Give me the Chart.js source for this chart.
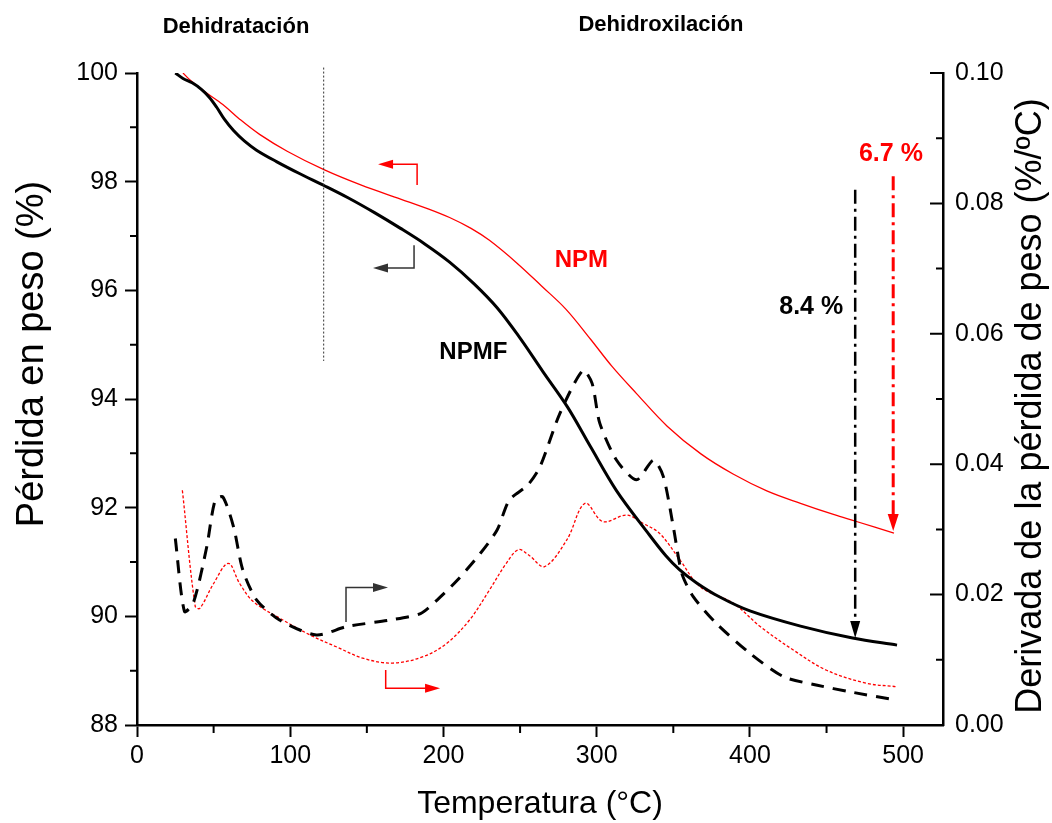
<!DOCTYPE html>
<html>
<head>
<meta charset="utf-8">
<script src="https://cdn.jsdelivr.net/npm/chart.js@4/dist/chart.umd.min.js"></script>
<style>
  html, body { margin: 0; padding: 0; background: #fff; }
  canvas { display: block; }
</style>
</head>
<body>
<canvas id="grafico" width="1052" height="823"></canvas>
<script>
// curvas TGA (eje izquierdo, % en peso) - [temperatura, valor]
const tgaNPMF = [[25,100],[30,99.9],[36,99.82],[42,99.7],[47,99.56],[52,99.37],[57,99.15],[63,98.94],[70,98.75],
  [78,98.58],[91,98.37],[106,98.15],[122,97.93],[138,97.7],[155,97.43],[172,97.14],[188,96.85],[204,96.52],
  [220,96.12],[235,95.68],[250,95.12],[265,94.5],[281,93.85],[296,93.12],[313,92.31],[333,91.55],[345,91.12],
  [354,90.86],[365,90.62],[380,90.36],[400,90.1],[433,89.82],[467,89.6],[496,89.47]];
const tgaNPM = [[30,100],[35,99.86],[45,99.64],[56,99.42],[67,99.15],[80,98.87],[98,98.56],[122,98.22],[146,97.94],
  [172,97.68],[190,97.5],[204,97.34],[218,97.14],[230,96.92],[248,96.5],[264,96.08],[280,95.65],[296,95.1],
  [310,94.6],[326,94.1],[346,93.5],[368,92.99],[389,92.62],[411,92.31],[433,92.08],[455,91.87],[469,91.75],[494,91.53]];

// curvas DTG (eje derecho, %/ºC)
const dtgNPMF = [[25,0.0286],[31,0.0174],[37,0.0189],[45.5,0.0273],[51,0.0345],[56,0.035],[63,0.0304],[69,0.0238],
  [78,0.0192],[93,0.0161],[117,0.0138],[137,0.0151],[165,0.0161],[185,0.0171],[196,0.0192],[209,0.0222],
  [224,0.0263],[235,0.0299],[243,0.0345],[255,0.0368],[263,0.0396],[276,0.0478],[291,0.0544],[297,0.0524],
  [302,0.0463],[313,0.0406],[326,0.0376],[337,0.0406],[343.5,0.0381],[350,0.0304],[355.5,0.0233],[363,0.0197],
  [378,0.0156],[400,0.011],[422,0.0074],[444,0.0061],[465,0.0051],[496,0.0038]];
const dtgNPM = [[29.6,0.036],[38,0.0182],[41,0.0179],[50,0.0217],[59.6,0.0248],[67,0.0217],[76,0.0189],[93,0.0164],
  [113,0.0138],[130,0.012],[148,0.0102],[167,0.0095],[187,0.0105],[202,0.0125],[217,0.0161],[230,0.0207],
  [241,0.0248],[249,0.0269],[256,0.026],[266,0.0243],[280.5,0.0284],[292.4,0.034],[304,0.0312],[319.6,0.0322],
  [330.4,0.0309],[341,0.0294],[354.4,0.0253],[367.5,0.0212],[389,0.0187],[406.7,0.0151],[428.3,0.0115],
  [450,0.0084],[476,0.0064],[495,0.0059]];

// ticks menores
const xMinor = [50, 150, 250, 350, 450];
const yMinor = [89, 91, 93, 95, 97, 99];
const y1Major = [0, 0.02, 0.04, 0.06, 0.08, 0.10];
const y1Minor = [0.01, 0.03, 0.05, 0.07, 0.09];

// titulos de ejes verticales
const tituloIzq = "Pérdida en peso (%)";
const tituloDer = "Derivada de la pérdida de peso (%/ºC)";

// anotaciones (en unidades de datos)
const lineaDivisoria = { x: 121.5, y: [100.1, 94.7] };
const flechaPerdidaNPMF = { x: 468.7, y: [97.85, 89.6], texto: "8.4 %" };
const flechaPerdidaNPM = { x: 493.5, y: [98.1, 91.57], texto: "6.7 %" };
// escuadras que indican el eje: inicio -> esquina -> punta
const escuadraNPMizq = { eje: "y", esquina: [182.8, 98.32], inicio: [182.8, 97.94], punta: [157.3, 98.32] };
const escuadraNPMFizq = { eje: "y", esquina: [180.8, 96.41], inicio: [180.8, 96.83], punta: [154, 96.41] };
const escuadraNPMFder = { eje: "y1", esquina: [136.4, 0.0211], inicio: [136.4, 0.0158], punta: [163.8, 0.0211] };
const escuadraNPMder = { eje: "y1", esquina: [162.3, 0.00563], inicio: [162.3, 0.00844], punta: [197.8, 0.00563] };
const etiquetas = [
  { texto: "NPM", x: 290, y: 96.55, color: "#ff0000" },
  { texto: "NPMF", x: 219.5, y: 94.85, color: "#000" }
];

const FUENTE = "'Liberation Sans', Arial, sans-serif";

function flecha(ctx, x0, y0, x1, y1, largo, ancho) {
  const ang = Math.atan2(y1 - y0, x1 - x0);
  ctx.save();
  ctx.setLineDash([]);
  ctx.beginPath();
  ctx.moveTo(x1, y1);
  ctx.lineTo(x1 - largo * Math.cos(ang) + ancho / 2 * Math.sin(ang), y1 - largo * Math.sin(ang) - ancho / 2 * Math.cos(ang));
  ctx.lineTo(x1 - largo * Math.cos(ang) - ancho / 2 * Math.sin(ang), y1 - largo * Math.sin(ang) + ancho / 2 * Math.cos(ang));
  ctx.closePath();
  ctx.fill();
  ctx.restore();
}

const anotaciones = {
  id: "anotaciones",
  afterDatasetsDraw(chart) {
    const ctx = chart.ctx;
    const x = chart.scales.x, y = chart.scales.y, y1 = chart.scales.y1;
    const area = chart.chartArea;
    ctx.save();

    // ticks menores y ticks del eje derecho (hacia dentro)
    ctx.strokeStyle = "#000";
    ctx.lineWidth = 2;
    ctx.beginPath();
    xMinor.forEach(v => { const px = x.getPixelForValue(v); ctx.moveTo(px, area.bottom); ctx.lineTo(px, area.bottom + 8); });
    yMinor.forEach(v => { const py = y.getPixelForValue(v); ctx.moveTo(area.left, py); ctx.lineTo(area.left - 7, py); });
    y1Major.forEach(v => { const py = y1.getPixelForValue(v); ctx.moveTo(area.right, py); ctx.lineTo(area.right - 13, py); });
    y1Minor.forEach(v => { const py = y1.getPixelForValue(v); ctx.moveTo(area.right, py); ctx.lineTo(area.right - 7, py); });
    ctx.stroke();

    // linea punteada vertical
    ctx.strokeStyle = "#333";
    ctx.lineWidth = 1;
    ctx.setLineDash([2, 2]);
    ctx.beginPath();
    const lx = x.getPixelForValue(lineaDivisoria.x) + 0.5;
    ctx.moveTo(lx, y.getPixelForValue(lineaDivisoria.y[0]));
    ctx.lineTo(lx, y.getPixelForValue(lineaDivisoria.y[1]));
    ctx.stroke();

    // flechas de perdida de peso (linea punto-raya)
    [[flechaPerdidaNPMF, "#000", 2.5, 10], [flechaPerdidaNPM, "#ff0000", 3, 11]].forEach(([f, color, ancho, cabeza]) => {
      const px = x.getPixelForValue(f.x);
      const pa = y.getPixelForValue(f.y[0]);
      const pb = y.getPixelForValue(f.y[1]);
      ctx.strokeStyle = color;
      ctx.fillStyle = color;
      ctx.lineWidth = ancho;
      ctx.setLineDash([14, 5, 3, 5]);
      ctx.beginPath();
      ctx.moveTo(px, pa);
      ctx.lineTo(px, pb - 14);
      ctx.stroke();
      flecha(ctx, px, pa, px, pb, 17, cabeza);
    });

    // escuadras con flecha
    [[escuadraNPMizq, "#ff0000"], [escuadraNPMFizq, "#333"], [escuadraNPMFder, "#333"], [escuadraNPMder, "#ff0000"]].forEach(([e, color]) => {
      const sc = e.eje === "y" ? y : y1;
      const p0 = [x.getPixelForValue(e.inicio[0]), sc.getPixelForValue(e.inicio[1])];
      const pc = [x.getPixelForValue(e.esquina[0]), sc.getPixelForValue(e.esquina[1])];
      const p1 = [x.getPixelForValue(e.punta[0]), sc.getPixelForValue(e.punta[1])];
      ctx.strokeStyle = color;
      ctx.fillStyle = color;
      ctx.lineWidth = 1.5;
      ctx.setLineDash([]);
      ctx.beginPath();
      ctx.moveTo(p0[0], p0[1]);
      ctx.lineTo(pc[0], pc[1]);
      const dir = Math.sign(p1[0] - pc[0]);
      ctx.lineTo(p1[0] - dir * 10, p1[1]);
      ctx.stroke();
      flecha(ctx, pc[0], pc[1], p1[0], p1[1], 15, 9);
    });

    // textos
    ctx.textAlign = "center";
    ctx.textBaseline = "middle";
    ctx.font = "bold 24px " + FUENTE;
    etiquetas.forEach(t => {
      ctx.fillStyle = t.color;
      ctx.fillText(t.texto, x.getPixelForValue(t.x), y.getPixelForValue(t.y));
    });
    ctx.font = "bold 25px " + FUENTE;
    ctx.fillStyle = "#000";
    ctx.fillText(flechaPerdidaNPMF.texto, x.getPixelForValue(440), y.getPixelForValue(95.7));
    ctx.fillStyle = "#ff0000";
    ctx.fillText(flechaPerdidaNPM.texto, x.getPixelForValue(492), y.getPixelForValue(98.5));

    ctx.font = "bold 22px " + FUENTE;
    ctx.fillStyle = "#000";
    ctx.fillText("Dehidratación", 236, 27);
    ctx.fillText("Dehidroxilación", 661, 25);

    // titulos verticales (ambos leidos de abajo hacia arriba)
    ctx.font = "38px " + FUENTE;
    ctx.save();
    ctx.translate(33, 354);
    ctx.rotate(-Math.PI / 2);
    ctx.fillText(tituloIzq, 0, 0);
    ctx.restore();
    ctx.font = "36px " + FUENTE;
    ctx.save();
    ctx.translate(1031, 406);
    ctx.rotate(-Math.PI / 2);
    ctx.fillText(tituloDer, 0, 0);
    ctx.restore();
    ctx.restore();
  }
};

const aPuntos = arr => arr.map(p => ({ x: p[0], y: p[1] }));

new Chart(document.getElementById("grafico"), {
  type: "line",
  data: {
    datasets: [
      { label: "NPMF", data: aPuntos(tgaNPMF), yAxisID: "y", borderColor: "#000", borderWidth: 3,
        pointRadius: 0, fill: false, tension: 0.35 },
      { label: "NPM", data: aPuntos(tgaNPM), yAxisID: "y", borderColor: "#ff0000", borderWidth: 1.3,
        pointRadius: 0, fill: false, tension: 0.35 },
      { label: "DTG NPMF", data: aPuntos(dtgNPMF), yAxisID: "y1", borderColor: "#000", borderWidth: 3,
        borderDash: [13, 9], pointRadius: 0, fill: false, tension: 0.25 },
      { label: "DTG NPM", data: aPuntos(dtgNPM), yAxisID: "y1", borderColor: "#ff0000", borderWidth: 1.3,
        borderDash: [3, 2], pointRadius: 0, fill: false, tension: 0.35 }
    ]
  },
  options: {
    responsive: false,
    animation: false,
    devicePixelRatio: 1,
    layout: { padding: { top: 73, left: 0, right: 0, bottom: 0 } },
    plugins: { legend: { display: false }, tooltip: { enabled: false } },
    scales: {
      x: {
        type: "linear", min: 0, max: 526,
        afterFit: s => { s.height = 98; },
        border: { display: true, color: "#000", width: 2.5 },
        grid: { drawOnChartArea: false, drawTicks: true, tickLength: 12, tickColor: "#000", tickWidth: 2 },
        ticks: { stepSize: 100, includeBounds: false, autoSkip: false, maxRotation: 0, padding: 4,
          color: "#000", font: { family: FUENTE, size: 25 } },
        title: { display: true, text: "Temperatura (°C)", color: "#000", padding: { top: 0, bottom: 0 },
          font: { family: FUENTE, size: 32 } }
      },
      y: {
        type: "linear", position: "left", min: 88, max: 100,
        afterFit: s => { s.width = 137; },
        border: { display: true, color: "#000", width: 2.5 },
        grid: { drawOnChartArea: false, drawTicks: true, tickLength: 12, tickColor: "#000", tickWidth: 2 },
        ticks: { stepSize: 2, includeBounds: false, padding: 7, color: "#000", font: { family: FUENTE, size: 25 } }
      },
      y1: {
        type: "linear", position: "right", min: 0, max: 0.1,
        afterFit: s => { s.width = 109; },
        border: { display: true, color: "#000", width: 2.5 },
        grid: { drawOnChartArea: false, drawTicks: false },
        ticks: { stepSize: 0.02, includeBounds: false, padding: 12, color: "#000",
          font: { family: FUENTE, size: 25 }, callback: v => v.toFixed(2) }
      }
    }
  },
  plugins: [anotaciones]
});
</script>
</body>
</html>
